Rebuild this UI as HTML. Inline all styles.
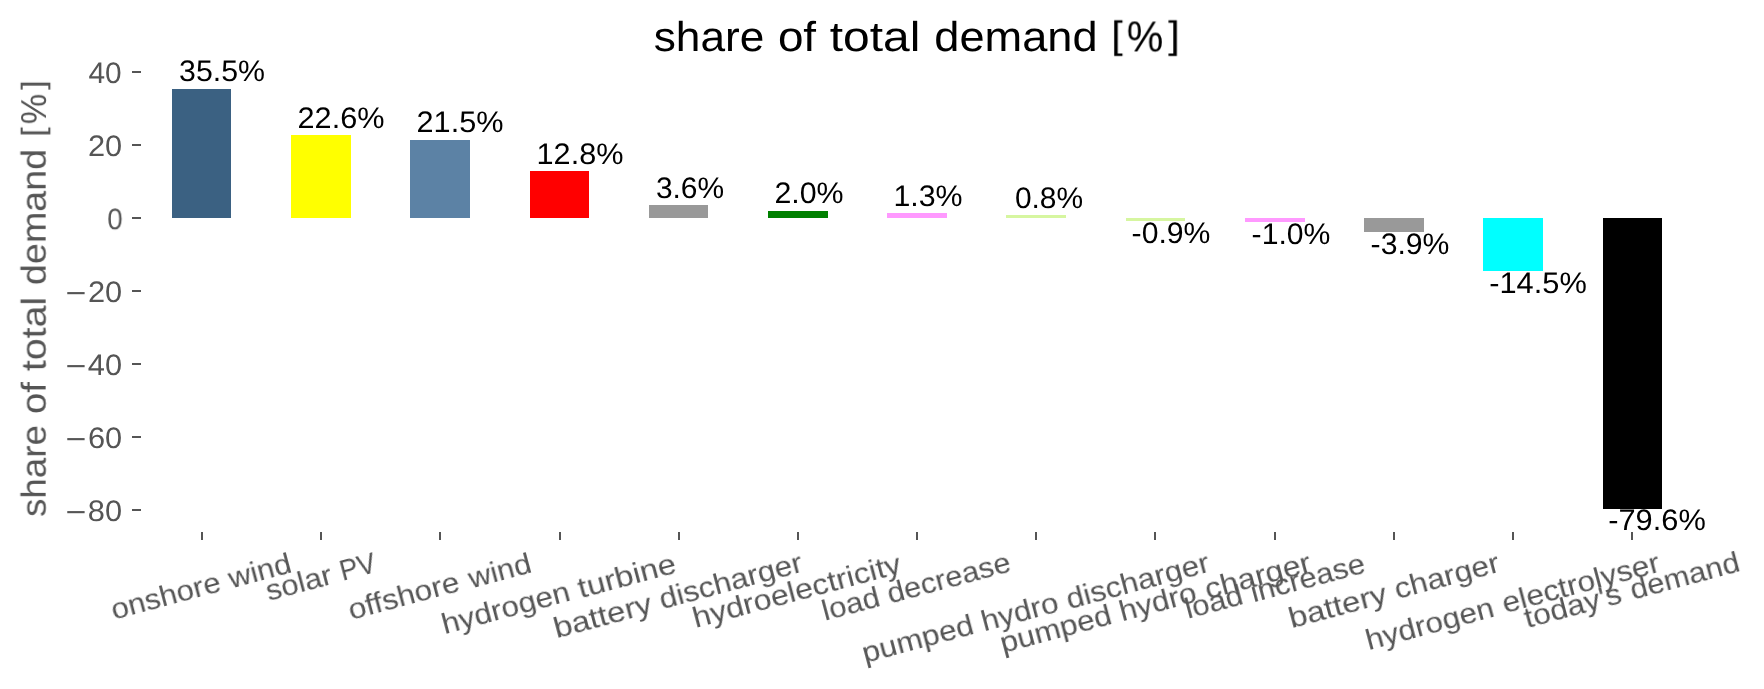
<!DOCTYPE html>
<html lang="en">
<head>
<meta charset="utf-8">
<title>share of total demand [%]</title>
<style>
html,body{margin:0;padding:0;background:#ffffff;}
body{width:1764px;height:689px;position:relative;overflow:hidden;font-family:"Liberation Sans",sans-serif;}
.bar,.tk{position:absolute;}
.tk{background:#555555;}
.t{position:absolute;white-space:nowrap;line-height:1;margin:0;padding:0;font-weight:normal;will-change:transform;text-rendering:geometricPrecision;}
</style>
</head>
<body>
<!-- bars -->
<div class="bar" style="left:172px;top:89px;width:59px;height:129px;background:#3B6182"></div>
<div class="bar" style="left:291px;top:135px;width:60px;height:83px;background:#FFFF00"></div>
<div class="bar" style="left:410px;top:140px;width:60px;height:78px;background:#5C82A5"></div>
<div class="bar" style="left:530px;top:171px;width:59px;height:47px;background:#FF0000"></div>
<div class="bar" style="left:649px;top:205px;width:59px;height:13px;background:#999999"></div>
<div class="bar" style="left:768px;top:211px;width:60px;height:7px;background:#008000"></div>
<div class="bar" style="left:887px;top:213px;width:60px;height:5px;background:#FF99FF"></div>
<div class="bar" style="left:1006px;top:215px;width:60px;height:3px;background:#D6F6A0"></div>
<div class="bar" style="left:1126px;top:218px;width:59px;height:3px;background:#D6F6A0"></div>
<div class="bar" style="left:1245px;top:218px;width:60px;height:4px;background:#FF99FF"></div>
<div class="bar" style="left:1364px;top:218px;width:60px;height:14px;background:#999999"></div>
<div class="bar" style="left:1483px;top:218px;width:60px;height:53px;background:#00FFFF"></div>
<div class="bar" style="left:1603px;top:218px;width:59px;height:291px;background:#000000"></div>
<!-- y ticks -->
<div class="tk" style="left:132px;top:71px;width:9px;height:2px"></div>
<div class="tk" style="left:132px;top:144px;width:9px;height:2px"></div>
<div class="tk" style="left:132px;top:217px;width:9px;height:2px"></div>
<div class="tk" style="left:132px;top:290px;width:9px;height:2px"></div>
<div class="tk" style="left:132px;top:363px;width:9px;height:2px"></div>
<div class="tk" style="left:132px;top:436px;width:9px;height:2px"></div>
<div class="tk" style="left:132px;top:509px;width:9px;height:2px"></div>
<!-- x ticks -->
<div class="tk" style="left:201px;top:532px;width:2px;height:8px"></div>
<div class="tk" style="left:320px;top:532px;width:2px;height:8px"></div>
<div class="tk" style="left:439px;top:532px;width:2px;height:8px"></div>
<div class="tk" style="left:559px;top:532px;width:2px;height:8px"></div>
<div class="tk" style="left:678px;top:532px;width:2px;height:8px"></div>
<div class="tk" style="left:797px;top:532px;width:2px;height:8px"></div>
<div class="tk" style="left:916px;top:532px;width:2px;height:8px"></div>
<div class="tk" style="left:1035px;top:532px;width:2px;height:8px"></div>
<div class="tk" style="left:1154px;top:532px;width:2px;height:8px"></div>
<div class="tk" style="left:1274px;top:532px;width:2px;height:8px"></div>
<div class="tk" style="left:1393px;top:532px;width:2px;height:8px"></div>
<div class="tk" style="left:1512px;top:532px;width:2px;height:8px"></div>
<div class="tk" style="left:1631px;top:532px;width:2px;height:8px"></div>
<!-- text -->
<div class="t" id="ti0" style="left:709.00px;top:37.00px;font-size:41.70px;color:#000000;transform:translate(-50%,-50%) scale(1.0601,1.0000)">share</div>
<div class="t" id="ti1" style="left:797.00px;top:36.50px;font-size:41.70px;color:#000000;transform:translate(-50%,-50%) scale(1.0997,1.0000)">of</div>
<div class="t" id="ti2" style="left:874.50px;top:36.50px;font-size:41.70px;color:#000000;transform:translate(-50%,-50%) scale(1.1493,1.0000)">total</div>
<div class="t" id="ti3" style="left:1015.50px;top:37.00px;font-size:41.70px;color:#000000;transform:translate(-50%,-50%) scale(1.0836,1.0000)">demand</div>
<div class="t" id="yl0" style="left:35.00px;top:471.00px;font-size:34.70px;color:#555555;transform:translate(-50%,-50%) rotate(-90deg) scale(1.0581,1.0000)">share</div>
<div class="t" id="yl1" style="left:35.00px;top:398.00px;font-size:34.70px;color:#555555;transform:translate(-50%,-50%) rotate(-90deg) scale(1.1057,1.0000)">of</div>
<div class="t" id="yl2" style="left:35.00px;top:334.00px;font-size:34.70px;color:#555555;transform:translate(-50%,-50%) rotate(-90deg) scale(1.1329,1.0000)">total</div>
<div class="t" id="yl3" style="left:35.00px;top:216.50px;font-size:34.70px;color:#555555;transform:translate(-50%,-50%) rotate(-90deg) scale(1.0863,1.0000)">demand</div>
<div class="t" id="ti4" style="left:1116.50px;top:35.00px;font-size:41.70px;color:#000000;transform:translate(-50%,-50%) scale(1.0000,0.9170)">[</div>
<div class="t" id="ti5" style="left:1145.00px;top:37.50px;font-size:43.20px;color:#000000;transform:translate(-50%,-50%) scale(0.9510,1.0000)">%</div>
<div class="t" id="ti6" style="left:1173.50px;top:35.00px;font-size:41.70px;color:#000000;transform:translate(-50%,-50%) scale(1.0000,0.9170)">]</div>
<div class="t" id="yl4" style="left:33.50px;top:132.00px;font-size:34.70px;color:#555555;transform:translate(-50%,-50%) rotate(-90deg) scale(1.0000,0.9170)">[</div>
<div class="t" id="yl5" style="left:33.50px;top:109.00px;font-size:36.00px;color:#555555;transform:translate(-50%,-50%) rotate(-90deg) scale(0.9510,1.0000)">%</div>
<div class="t" id="yl6" style="left:33.50px;top:85.00px;font-size:34.70px;color:#555555;transform:translate(-50%,-50%) rotate(-90deg) scale(1.0000,0.9170)">]</div>
<div class="t" id="yt1m" style="left:76.00px;top:513.00px;font-size:29.67px;color:#555555;transform:translate(-50%,-50%) scale(1.2038,1.0000)">−</div>
<div class="t" id="yt1d" style="left:104.50px;top:511.50px;font-size:29.67px;color:#555555;transform:translate(-50%,-50%) scale(1.0395,1.0000)">80</div>
<div class="t" id="yt2m" style="left:76.00px;top:440.00px;font-size:29.67px;color:#555555;transform:translate(-50%,-50%) scale(1.2038,1.0000)">−</div>
<div class="t" id="yt2d" style="left:104.50px;top:438.50px;font-size:29.67px;color:#555555;transform:translate(-50%,-50%) scale(1.0376,1.0000)">60</div>
<div class="t" id="yt3m" style="left:76.00px;top:367.00px;font-size:29.67px;color:#555555;transform:translate(-50%,-50%) scale(1.2038,1.0000)">−</div>
<div class="t" id="yt3d" style="left:105.00px;top:365.50px;font-size:29.67px;color:#555555;transform:translate(-50%,-50%) scale(1.0385,1.0000)">40</div>
<div class="t" id="yt4m" style="left:76.00px;top:294.00px;font-size:29.67px;color:#555555;transform:translate(-50%,-50%) scale(1.2038,1.0000)">−</div>
<div class="t" id="yt4d" style="left:104.50px;top:292.50px;font-size:29.67px;color:#555555;transform:translate(-50%,-50%) scale(1.0376,1.0000)">20</div>
<div class="t" id="yt5" style="left:115.00px;top:219.50px;font-size:29.67px;color:#555555;transform:translate(-50%,-50%) scale(0.9363,1.0000)">0</div>
<div class="t" id="yt6" style="left:104.50px;top:146.50px;font-size:29.67px;color:#555555;transform:translate(-50%,-50%) scale(1.0376,1.0000)">20</div>
<div class="t" id="yt7" style="left:105.00px;top:73.50px;font-size:29.67px;color:#555555;transform:translate(-50%,-50%) scale(1.0071,1.0000)">40</div>
<div class="t" id="xt0w0" style="left:165.50px;top:596.50px;font-size:29.00px;color:#555555;transform:translate(-50%,-50%) rotate(-15deg) scale(1.0702,1.0000)">onshore</div>
<div class="t" id="xt0w1" style="left:260.00px;top:571.50px;font-size:29.00px;color:#555555;transform:translate(-50%,-50%) rotate(-15deg) scale(1.0700,1.0000)">wind</div>
<div class="t" id="xt1w0" style="left:299.00px;top:584.00px;font-size:29.00px;color:#555555;transform:translate(-50%,-50%) rotate(-15deg) scale(1.0700,1.0000)">solar</div>
<div class="t" id="xt1w1" style="left:358.00px;top:567.50px;font-size:29.00px;color:#555555;transform:translate(-50%,-50%) rotate(-15deg) scale(0.9374,1.0000)">PV</div>
<div class="t" id="xt2w0" style="left:403.50px;top:596.50px;font-size:29.00px;color:#555555;transform:translate(-50%,-50%) rotate(-15deg) scale(1.0917,1.0000)">offshore</div>
<div class="t" id="xt2w1" style="left:500.00px;top:571.50px;font-size:29.00px;color:#555555;transform:translate(-50%,-50%) rotate(-15deg) scale(1.0700,1.0000)">wind</div>
<div class="t" id="xt3w0" style="left:506.00px;top:608.50px;font-size:29.00px;color:#555555;transform:translate(-50%,-50%) rotate(-15deg) scale(1.0879,1.0000)">hydrogen</div>
<div class="t" id="xt3w1" style="left:626.50px;top:576.50px;font-size:29.00px;color:#555555;transform:translate(-50%,-50%) rotate(-15deg) scale(1.1332,1.0000)">turbine</div>
<div class="t" id="xt4w0" style="left:602.50px;top:616.50px;font-size:29.00px;color:#555555;transform:translate(-50%,-50%) rotate(-15deg) scale(1.1338,1.0000)">battery</div>
<div class="t" id="xt4w1" style="left:731.00px;top:582.00px;font-size:29.00px;color:#555555;transform:translate(-50%,-50%) rotate(-15deg) scale(1.0864,1.0000)">discharger</div>
<div class="t" id="xt5w0" style="left:797.00px;top:592.00px;font-size:29.00px;color:#555555;transform:translate(-50%,-50%) rotate(-15deg) scale(1.1088,1.0000)">hydroelectricity</div>
<div class="t" id="xt6w0" style="left:850.50px;top:605.00px;font-size:29.00px;color:#555555;transform:translate(-50%,-50%) rotate(-15deg) scale(1.0700,1.0000)">load</div>
<div class="t" id="xt6w1" style="left:949.00px;top:579.00px;font-size:29.00px;color:#555555;transform:translate(-50%,-50%) rotate(-15deg) scale(1.0607,1.0000)">decrease</div>
<div class="t" id="xt7w0" style="left:917.50px;top:640.00px;font-size:29.00px;color:#555555;transform:translate(-50%,-50%) rotate(-15deg) scale(1.0910,1.0000)">pumped</div>
<div class="t" id="xt7w1" style="left:1020.00px;top:613.00px;font-size:29.00px;color:#555555;transform:translate(-50%,-50%) rotate(-15deg) scale(1.0855,1.0000)">hydro</div>
<div class="t" id="xt7w2" style="left:1138.00px;top:582.00px;font-size:29.00px;color:#555555;transform:translate(-50%,-50%) rotate(-15deg) scale(1.0864,1.0000)">discharger</div>
<div class="t" id="xt8w0" style="left:1055.50px;top:630.00px;font-size:29.00px;color:#555555;transform:translate(-50%,-50%) rotate(-15deg) scale(1.0910,1.0000)">pumped</div>
<div class="t" id="xt8w1" style="left:1158.00px;top:603.00px;font-size:29.00px;color:#555555;transform:translate(-50%,-50%) rotate(-15deg) scale(1.0855,1.0000)">hydro</div>
<div class="t" id="xt8w2" style="left:1257.50px;top:576.50px;font-size:29.00px;color:#555555;transform:translate(-50%,-50%) rotate(-15deg) scale(1.1049,1.0000)">charger</div>
<div class="t" id="xt9w0" style="left:1213.50px;top:603.00px;font-size:29.00px;color:#555555;transform:translate(-50%,-50%) rotate(-15deg) scale(1.0700,1.0000)">load</div>
<div class="t" id="xt9w1" style="left:1308.00px;top:578.50px;font-size:29.00px;color:#555555;transform:translate(-50%,-50%) rotate(-15deg) scale(1.0700,1.0000)">increase</div>
<div class="t" id="xt10w0" style="left:1337.50px;top:606.50px;font-size:29.00px;color:#555555;transform:translate(-50%,-50%) rotate(-15deg) scale(1.1338,1.0000)">battery</div>
<div class="t" id="xt10w1" style="left:1446.50px;top:576.50px;font-size:29.00px;color:#555555;transform:translate(-50%,-50%) rotate(-15deg) scale(1.0933,1.0000)">charger</div>
<div class="t" id="xt11w0" style="left:1430.00px;top:624.50px;font-size:29.00px;color:#555555;transform:translate(-50%,-50%) rotate(-15deg) scale(1.0879,1.0000)">hydrogen</div>
<div class="t" id="xt11w1" style="left:1580.50px;top:584.00px;font-size:29.00px;color:#555555;transform:translate(-50%,-50%) rotate(-15deg) scale(1.0923,1.0000)">electrolyser</div>
<div class="t" id="xt12w0" style="left:1573.00px;top:606.50px;font-size:29.00px;color:#555555;transform:translate(-50%,-50%) rotate(-15deg) scale(1.0941,1.0000)">today's</div>
<div class="t" id="xt12w1" style="left:1684.50px;top:577.00px;font-size:29.00px;color:#555555;transform:translate(-50%,-50%) rotate(-15deg) scale(1.0700,1.0000)">demand</div>
<div class="t" id="bl0" style="left:222.00px;top:71.50px;font-size:29.67px;color:#000000;transform:translate(-50%,-50%) scale(1.0214,1.0000)">35.5%</div>
<div class="t" id="bl1" style="left:341.00px;top:118.50px;font-size:29.67px;color:#000000;transform:translate(-50%,-50%) scale(1.0335,1.0000)">22.6%</div>
<div class="t" id="bl2" style="left:460.00px;top:122.50px;font-size:29.67px;color:#000000;transform:translate(-50%,-50%) scale(1.0335,1.0000)">21.5%</div>
<div class="t" id="bl3" style="left:579.50px;top:154.50px;font-size:29.67px;color:#000000;transform:translate(-50%,-50%) scale(1.0331,1.0000)">12.8%</div>
<div class="t" id="bl4" style="left:690.00px;top:188.50px;font-size:29.67px;color:#000000;transform:translate(-50%,-50%) scale(1.0089,1.0000)">3.6%</div>
<div class="t" id="bl5" style="left:809.00px;top:193.50px;font-size:29.67px;color:#000000;transform:translate(-50%,-50%) scale(1.0241,1.0000)">2.0%</div>
<div class="t" id="bl6" style="left:927.50px;top:196.50px;font-size:29.67px;color:#000000;transform:translate(-50%,-50%) scale(1.0235,1.0000)">1.3%</div>
<div class="t" id="bl7" style="left:1049.00px;top:198.50px;font-size:29.67px;color:#000000;transform:translate(-50%,-50%) scale(1.0089,1.0000)">0.8%</div>
<div class="t" id="bl8" style="left:1170.50px;top:233.50px;font-size:29.67px;color:#000000;transform:translate(-50%,-50%) scale(1.0172,1.0000)">-0.9%</div>
<div class="t" id="bl9" style="left:1290.50px;top:234.50px;font-size:29.67px;color:#000000;transform:translate(-50%,-50%) scale(1.0172,1.0000)">-1.0%</div>
<div class="t" id="bl10" style="left:1409.50px;top:244.50px;font-size:29.67px;color:#000000;transform:translate(-50%,-50%) scale(1.0172,1.0000)">-3.9%</div>
<div class="t" id="bl11" style="left:1538.00px;top:283.50px;font-size:29.67px;color:#000000;transform:translate(-50%,-50%) scale(1.0372,1.0000)">-14.5%</div>
<div class="t" id="bl12" style="left:1657.00px;top:520.50px;font-size:29.67px;color:#000000;transform:translate(-50%,-50%) scale(1.0372,1.0000)">-79.6%</div>
</body>
</html>
